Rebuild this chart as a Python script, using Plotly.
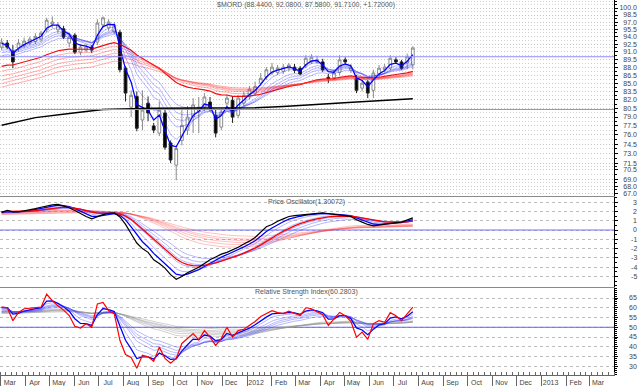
import math
import pandas as pd
import plotly.graph_objects as go

# ---------------- data ----------------
dates = pd.date_range("2011-03-02", periods=74, freq="7D")

opens = [91.9, 92.7, 91.1, 91.7, 92.3, 92.7, 93.0, 93.5, 95.4, 96.6,
         95.4, 95.6, 92.7, 94.3, 90.9, 91.3, 91.9, 92.9, 96.4, 95.8,
         95.0, 94.9, 87.8, 80.7, 82.6, 78.5, 81.4, 77.5, 76.3, 79.7,
         74.7, 71.2, 75.1, 76.8, 79.0, 79.9, 80.7, 81.6, 79.3, 77.3,
         81.4, 81.9, 79.3, 81.4, 82.6, 83.2, 85.0, 86.1, 86.9, 87.0,
         87.2, 87.8, 88.0, 87.8, 88.4, 89.0, 89.0, 89.0, 86.1, 86.0,
         87.0, 89.4, 87.4, 85.9, 84.1, 85.2, 83.7, 86.7, 87.5, 87.8,
         89.4, 89.0, 88.8, 88.44]
highs = [93.7, 93.3, 92.3, 93.5, 93.8, 94.0, 94.7, 95.2, 97.9, 98.2,
         97.0, 96.2, 94.7, 94.7, 92.5, 92.5, 92.3, 97.6, 98.2, 97.6,
         97.0, 95.4, 88.2, 83.7, 83.5, 83.7, 82.6, 78.0, 81.7, 80.5,
         75.1, 74.3, 80.2, 80.9, 82.3, 82.5, 83.2, 82.5, 80.2, 80.5,
         82.9, 82.6, 82.8, 83.4, 84.5, 85.3, 86.9, 88.0, 88.8, 88.4,
         88.6, 88.8, 88.6, 88.2, 90.3, 90.5, 90.2, 89.6, 86.7, 87.5,
         90.3, 89.9, 88.6, 86.5, 85.6, 85.6, 87.5, 88.4, 88.6, 90.3,
         89.9, 89.4, 90.6, 92.08]
lows = [91.3, 91.5, 87.8, 91.0, 91.8, 92.3, 92.5, 93.0, 94.9, 95.8,
        94.7, 93.5, 91.9, 90.5, 90.3, 90.9, 90.7, 92.3, 95.8, 95.2,
        94.5, 87.0, 81.7, 79.0, 76.6, 76.8, 78.3, 76.3, 75.8, 73.6,
        71.5, 68.9, 74.3, 76.0, 76.3, 76.3, 80.0, 80.0, 75.6, 76.8,
        80.7, 78.0, 78.8, 80.9, 82.1, 82.8, 84.5, 85.6, 86.5, 86.5,
        86.7, 87.2, 86.9, 86.5, 87.8, 88.6, 88.6, 87.1, 85.0, 85.6,
        86.5, 88.4, 86.9, 83.2, 83.5, 82.3, 82.3, 86.1, 87.0, 87.4,
        88.6, 87.5, 87.6, 87.58]
closes = [92.9, 91.9, 89.0, 92.7, 93.1, 93.5, 94.0, 94.7, 97.4, 97.0,
          96.4, 93.9, 93.9, 90.9, 91.9, 91.9, 91.3, 96.8, 97.9, 97.0,
          96.4, 87.5, 83.2, 82.8, 77.1, 80.2, 79.7, 76.8, 80.2, 74.0,
          72.0, 73.8, 77.6, 79.0, 81.1, 80.7, 82.5, 80.7, 76.3, 79.9,
          82.3, 79.0, 82.3, 82.8, 83.9, 84.4, 85.9, 87.5, 88.0, 87.8,
          88.0, 88.4, 87.4, 86.7, 89.7, 89.9, 89.4, 87.5, 85.9, 86.9,
          89.4, 89.0, 87.9, 83.7, 85.0, 83.2, 86.9, 87.8, 88.0, 89.7,
          89.0, 87.8, 89.99, 91.71]

# long-term average (black line), sampled at week indices
long_ma_idx = [0, 6, 12, 18, 27, 36, 45, 50, 56, 63, 73]
long_ma_vals = [77.6, 78.9, 79.6, 80.3, 80.5, 80.5, 80.6, 80.8, 81.2, 81.6, 82.2]

osc_vals = [1.9, 2.1, 1.95, 1.95, 2.05, 2.15, 2.3, 2.45, 2.6, 2.7,
            2.75, 2.6, 2.4, 2.1, 1.75, 1.45, 1.2, 1.45, 1.65, 1.8,
            1.85, 1.4, 0.6, -0.4, -1.4, -2.0, -2.4, -3.2, -3.6, -4.1,
            -4.8, -5.3, -5.0, -4.6, -4.3, -4.0, -3.6, -3.2, -2.9, -2.6,
            -2.4, -2.15, -1.85, -1.5, -1.2, -0.8, -0.2, 0.35, 0.6, 0.95,
            1.2, 1.45, 1.55, 1.6, 1.7, 1.75, 1.8, 1.85, 1.75, 1.7,
            1.6, 1.55, 1.45, 1.1, 0.85, 0.6, 0.45, 0.55, 0.65, 0.75,
            0.8, 0.85, 1.05, 1.30072]

rsi_vals = [60.3, 60.0, 53.4, 57.6, 59.5, 59.8, 60.0, 60.3, 67.0, 63.6,
            61.0, 58.8, 56.0, 50.5, 49.6, 51.8, 50.0, 62.0, 62.7, 58.5,
            57.0, 43.3, 36.0, 34.5, 29.0, 35.6, 34.8, 32.5, 39.8, 34.0,
            31.6, 34.0, 41.7, 44.3, 46.8, 43.5, 48.3, 44.9, 40.7, 44.3,
            50.0, 44.9, 48.3, 49.0, 51.0, 53.0, 55.5, 57.0, 58.5, 57.5,
            57.0, 58.3, 57.0, 56.0, 60.0, 59.5, 58.0, 56.5, 50.9, 54.5,
            57.6, 55.9, 53.0, 44.9, 47.5, 43.8, 51.9, 53.4, 52.5, 57.5,
            55.9, 53.4, 57.0, 60.2803]

short_periods = [3, 5, 8, 10, 12, 15]
long_periods = [30, 35, 40, 45, 50, 60]
price_short_start = [92.4, 92.0, 91.4, 90.9, 90.4, 89.8]
price_long_start = [87.8, 86.9, 86.0, 85.2, 84.6, 84.0]
osc_short_start = [1.95, 1.95, 1.9, 1.9, 1.85, 1.85]
osc_long_start = [1.9, 1.85, 1.8, 1.75, 1.7, 1.65]
osc_signal_period = 9
osc_signal_start = 2.0
rsi_short_start = [60.0, 59.5, 59.0, 58.5, 58.0, 57.5]
rsi_long_start = [58.0, 57.8, 57.6, 57.4, 57.2, 57.0]

main_hlines = [90.0, 80.3]
osc_zero = 0.0
rsi_mid = 50.0

main_ticks = [100.0, 98.5, 97.0, 95.5, 94.0, 92.5, 91.0, 89.5, 88.0, 86.5, 85.0, 83.5,
              82.0, 80.5, 79.0, 77.5, 76.0, 74.5, 73.0, 71.5, 70.5, 69.0, 68.0, 67.0]
osc_ticks = [3, 2, 1, 0, -1, -2, -3, -4, -5]
rsi_ticks = [65, 60, 55, 50, 45, 40, 35, 30]

month_ticks = pd.date_range("2011-03-01", "2013-03-01", freq="MS")
month_labels = [d.strftime("%b") if d.month != 1 else str(d.year) for d in month_ticks]

x_range = ["2011-02-28", "2013-04-01"]

title_main = "$MORD (88.4400, 92.0800, 87.5800, 91.7100, +1.72000)"
title_osc = "Price Oscillator(1.30072)"
title_rsi = "Relative Strength Index(60.2803)"


def ema(series, n, start):
    a = 2.0 / (n + 1)
    e = start
    out = []
    for v in series:
        e = e + a * (v - e)
        out.append(e)
    return out


FS = "\u2007"   # figure space (digit width)
PS = "\u2008"   # punctuation space (dot width)

BLUE_THIN = "rgba(40,40,255,0.42)"
fig = go.Figure()

# ---------------- main panel ----------------
for k, (n, s) in enumerate(zip(long_periods, price_long_start)):
    top = k == 0
    fig.add_trace(go.Scatter(x=dates, y=ema(closes, n, s), mode="lines",
                             line=dict(color="rgba(240,0,0,0.95)" if top else "rgba(255,50,50,0.5)",
                                       width=1.2 if top else 0.8),
                             xaxis="x", yaxis="y", hoverinfo="skip"))
for k, (n, s) in enumerate(zip(short_periods, price_short_start)):
    fast = k == 0
    fig.add_trace(go.Scatter(x=dates, y=ema(closes, n, s), mode="lines",
                             line=dict(color="#0000ff" if fast else BLUE_THIN,
                                       width=1.3 if fast else 0.8),
                             xaxis="x", yaxis="y", hoverinfo="skip"))
fig.add_trace(go.Scatter(x=[dates[i] for i in long_ma_idx], y=long_ma_vals, mode="lines",
                         line=dict(color="black", width=1.5), xaxis="x", yaxis="y"))
for v in main_hlines:
    fig.add_trace(go.Scatter(x=x_range, y=[v, v], mode="lines",
                             line=dict(color="#8c8cff", width=1), xaxis="x", yaxis="y"))
fig.add_trace(go.Candlestick(x=dates, open=opens, high=highs, low=lows, close=closes,
                             increasing=dict(line=dict(color="#8a8a8a", width=1), fillcolor="white"),
                             decreasing=dict(line=dict(color="#222222", width=1), fillcolor="black"),
                             whiskerwidth=0, xaxis="x", yaxis="y"))

# ---------------- price oscillator ----------------
fig.add_trace(go.Scatter(x=x_range, y=[osc_zero, osc_zero], mode="lines",
                         line=dict(color="#7070ff", width=1), xaxis="x2", yaxis="y2"))
for n, s in zip(long_periods, osc_long_start):
    fig.add_trace(go.Scatter(x=dates, y=ema(osc_vals, n, s), mode="lines",
                             line=dict(color="rgba(255,60,60,0.4)", width=0.8),
                             xaxis="x2", yaxis="y2"))
for k, (n, s) in enumerate(zip(short_periods, osc_short_start)):
    fast = k == 0
    fig.add_trace(go.Scatter(x=dates, y=ema(osc_vals, n, s), mode="lines",
                             line=dict(color="#0000ff" if fast else BLUE_THIN,
                                       width=1.3 if fast else 0.8),
                             xaxis="x2", yaxis="y2"))
fig.add_trace(go.Scatter(x=dates, y=ema(osc_vals, osc_signal_period, osc_signal_start), mode="lines",
                         line=dict(color="#ff0000", width=1.3), xaxis="x2", yaxis="y2"))
fig.add_trace(go.Scatter(x=dates, y=osc_vals, mode="lines",
                         line=dict(color="black", width=1.2), xaxis="x2", yaxis="y2"))

# ---------------- RSI ----------------
fig.add_trace(go.Scatter(x=x_range, y=[rsi_mid, rsi_mid], mode="lines",
                         line=dict(color="#6060ff", width=1), xaxis="x3", yaxis="y3"))
for n, s in zip(long_periods, rsi_long_start):
    fig.add_trace(go.Scatter(x=dates, y=ema(rsi_vals, n, s), mode="lines",
                             line=dict(color="rgba(150,150,150,0.55)", width=0.8),
                             xaxis="x3", yaxis="y3"))
for k, (n, s) in enumerate(zip(short_periods, rsi_short_start)):
    fast = k == 0
    fig.add_trace(go.Scatter(x=dates, y=ema(rsi_vals, n, s), mode="lines",
                             line=dict(color="#0000ff" if fast else BLUE_THIN,
                                       width=1.3 if fast else 0.8),
                             xaxis="x3", yaxis="y3"))
fig.add_trace(go.Scatter(x=dates, y=rsi_vals, mode="lines",
                         line=dict(color="#ff0000", width=1.2), xaxis="x3", yaxis="y3"))

# ---------------- layout ----------------
H_PLOT = 375.0
def dom(top_px, bot_px):
    return [1 - bot_px / H_PLOT, 1 - top_px / H_PLOT]

font_ticks = dict(family="Liberation Sans, Arial, sans-serif", size=7, color="#444444")
main_minor = [(a + b) / 2 for a, b in zip(main_ticks[:-1], main_ticks[1:])] + [100.75, 101.5]

yaxis_common = dict(side="right", showline=True, linecolor="black", linewidth=1,
                    ticks="outside", ticklen=3, tickcolor="black", tickfont=font_ticks,
                    zeroline=False, tickmode="array", fixedrange=True)

fig.update_layout(
    width=640, height=386,
    margin=dict(l=0, r=26, t=0, b=11),
    paper_bgcolor="white", plot_bgcolor="white",
    showlegend=False, hovermode=False,
    xaxis=dict(domain=[0, 1], anchor="y", matches="x3", range=x_range, type="date",
               showticklabels=False, ticks="", showgrid=False, showline=True,
               linecolor="#8a8a8a", linewidth=1, rangeslider=dict(visible=False)),
    xaxis2=dict(domain=[0, 1], anchor="y2", matches="x3", range=x_range, type="date",
                showticklabels=False, ticks="", showgrid=False, showline=True,
                linecolor="#8a8a8a", linewidth=1),
    xaxis3=dict(domain=[0, 1], anchor="y3", range=x_range, type="date",
                tickmode="array", tickvals=list(month_ticks), ticktext=month_labels,
                ticks="outside", ticklen=11, tickcolor="#666666", tickwidth=1,
                ticklabelshift=9, ticklabelstandoff=-10,
                tickfont=font_ticks, showgrid=False, showline=True,
                linecolor="#666666", linewidth=1,
                minor=dict(ticks="inside", ticklen=3, tickcolor="#666666",
                           dtick=7 * 86400000, tick0="2011-02-28", showgrid=False)),
    yaxis=dict(domain=dom(0, 196), anchor="x", type="log",
               range=[math.log10(66.6), math.log10(101.75)],
               tickvals=main_ticks,
               ticktext=[(FS if t < 100 else "") + f"{t:.1f}" for t in main_ticks],
               showgrid=True, gridcolor="#c4c4c4", griddash="1px,2px", gridwidth=1,
               minor=dict(tickmode="array", tickvals=main_minor, ticks="outside", ticklen=2,
                          tickcolor="black", showgrid=True, gridcolor="#d4d4d4",
                          griddash="1px,2px"),
               **yaxis_common),
    yaxis2=dict(domain=dom(197, 287), anchor="x2", range=[-6.13, 3.55],
                tickvals=osc_ticks,
                ticktext=[(FS * 3 + PS + str(t)) if t >= 0 else (FS * 3 + "-" + str(-t)) for t in osc_ticks],
                showgrid=True, gridcolor="#bdbdbd", griddash="3px,3px", gridwidth=1,
                minor=dict(dtick=0.5, ticks="outside", ticklen=2, tickcolor="black", showgrid=False),
                **yaxis_common),
    yaxis3=dict(domain=dom(288, 375), anchor="x3", range=[25.5, 70.15],
                tickvals=rsi_ticks,
                ticktext=[FS * 2 + PS + str(t) for t in rsi_ticks],
                showgrid=True, gridcolor="#bdbdbd", griddash="3px,3px", gridwidth=1,
                minor=dict(dtick=1, ticks="outside", ticklen=2, tickcolor="black", showgrid=False),
                **yaxis_common),
)

title_font = dict(family="Liberation Sans, Arial, sans-serif", size=7, color="#555555")
for txt, ypx in [(title_main, 5), (title_osc, 202), (title_rsi, 292)]:
    fig.add_annotation(text=txt, xref="paper", yref="paper", x=306 / 614, y=1 - ypx / H_PLOT,
                       xanchor="center", yanchor="middle", showarrow=False, font=title_font)

fig.write_html("out.html", config={"displayModeBar": False, "staticPlot": True},
               post_script="document.body.style.margin='0px';")
